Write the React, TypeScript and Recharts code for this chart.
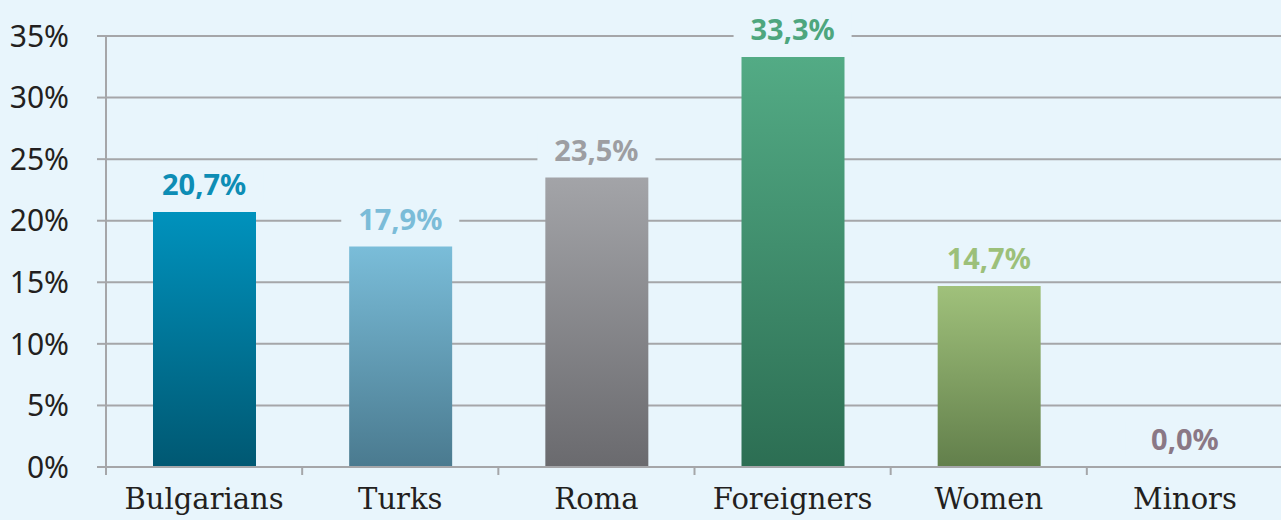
import { ComposedChart, Bar, Line, XAxis, YAxis, CartesianGrid, Cell } from 'recharts';

const categories = ['Bulgarians', 'Turks', 'Roma', 'Foreigners', 'Women', 'Minors'];
const shares = [20.7, 17.9, 23.5, 33.3, 14.7, 0.0];
const yTicks = [0, 5, 10, 15, 20, 25, 30, 35];

const topColors = ['#0092bd', '#7abdd9', '#a3a4a8', '#53ab85', '#a0c17b', '#8a7886'];
const bottomColors = ['#005872', '#4a7a8f', '#6a6a6e', '#2c6e53', '#627f4b', '#8a7886'];
const labelColors = ['#0d8db5', '#7bbcd8', '#9d9ea2', '#4ea67e', '#9cc07a', '#8a7886'];

const BG = '#e8f5fc';
const GRID = '#a5a6a9';
const W = 1281;
const H = 520;
const LEFT = 106;
const RIGHT_MARGIN = -2;

if (typeof document !== 'undefined') {
  document.body.style.margin = '0';
  document.body.style.background = BG;
}

const data = categories.map((name, i) => ({ name, value: shares[i] }));

const fmt = (v: number) => v.toFixed(1).replace('.', ',') + '%';

// value labels ride on an invisible line so the zero bar still gets one
function ValueLabel(props: any) {
  const { x, y, index } = props;
  const textW = 84;
  return (
    <g>
      <rect x={x - textW / 2 - 17} y={y - 45} width={textW + 34} height={34} fill={BG} />
      <text
        x={x}
        y={y - 17}
        textAnchor="middle"
        fill={labelColors[index]}
        fontFamily="'Noto Sans', sans-serif"
        fontWeight={700}
        fontSize={29}
      >
        {fmt(shares[index])}
      </text>
    </g>
  );
}

function CategoryTick(props: any) {
  const { x, y, payload } = props;
  const band = (W - LEFT - RIGHT_MARGIN) / categories.length;
  return (
    <g>
      <line x1={x - band / 2} x2={x - band / 2} y1={y} y2={y + 8} stroke={GRID} strokeWidth={2} />
      <text
        x={x}
        y={y + 42}
        textAnchor="middle"
        fill="#231f20"
        fontFamily="'DejaVu Serif', serif"
        fontSize={29}
      >
        {payload.value}
      </text>
    </g>
  );
}

export default function App() {
  return (
    <div style={{ width: W, height: H, background: BG, overflow: 'hidden' }}>
      <ComposedChart
        width={W}
        height={H}
        data={data}
        margin={{ top: 36, right: RIGHT_MARGIN, bottom: 0, left: 0 }}
      >
        <defs>
          {categories.map((c, i) => (
            <linearGradient key={c} id={`grad${i}`} x1="0" y1="0" x2="0" y2="1">
              <stop offset="0%" stopColor={topColors[i]} />
              <stop offset="100%" stopColor={bottomColors[i]} />
            </linearGradient>
          ))}
        </defs>
        <CartesianGrid vertical={false} stroke={GRID} strokeWidth={2} />
        <XAxis
          dataKey="name"
          height={53}
          axisLine={{ stroke: GRID, strokeWidth: 2 }}
          tickLine={false}
          tickSize={0}
          tickMargin={0}
          tick={<CategoryTick />}
          interval={0}
        />
        <YAxis
          width={LEFT}
          domain={[0, 35]}
          ticks={yTicks}
          interval={0}
          tickFormatter={(v: number) => v + '%'}
          axisLine={{ stroke: GRID, strokeWidth: 2 }}
          tickLine={{ stroke: GRID, strokeWidth: 2 }}
          tickSize={9}
          tickMargin={28}
          tick={{ fill: '#231f20', fontSize: 30, fontFamily: "'Noto Sans', sans-serif" }}
        />
        <Bar dataKey="value" barSize={103} isAnimationActive={false}>
          {data.map((d, i) => (
            <Cell key={d.name} fill={`url(#grad${i})`} />
          ))}
        </Bar>
        <Line
          dataKey="value"
          stroke="none"
          dot={false}
          activeDot={false}
          isAnimationActive={false}
          label={<ValueLabel />}
        />
      </ComposedChart>
    </div>
  );
}
